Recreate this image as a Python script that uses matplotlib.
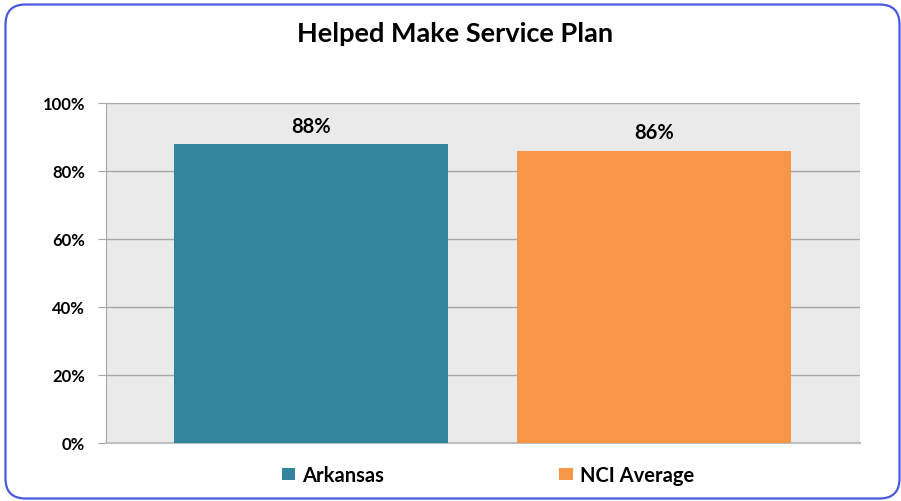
import matplotlib
matplotlib.use("Agg")
import matplotlib.pyplot as plt
from matplotlib.patches import FancyBboxPatch, Patch
from matplotlib.ticker import FuncFormatter

categories = ["Arkansas", "NCI Average"]
values = [88, 86]
colors = ["#31849B", "#F79646"]
yticks = [0, 20, 40, 60, 80, 100]
title = "Helped Make Service Plan"

W, H = 901, 502
plt.rcParams['font.family'] = ['Lato', 'DejaVu Sans']
fig = plt.figure(figsize=(W / 100, H / 100), dpi=100)

# overlay axes in pixel coordinates for the rounded frame
bg = fig.add_axes([0, 0, 1, 1], zorder=-1)
bg.set_xlim(0, W)
bg.set_ylim(H, 0)
bg.axis("off")
frame = FancyBboxPatch((5.5, 5.5), 894, 494,
                       boxstyle="round,pad=0,rounding_size=20",
                       fill=False, edgecolor="#4A5AE0", linewidth=1.6)
bg.add_patch(frame)

ax = fig.add_axes([106 / W, 1 - 444 / H, (860 - 106) / W, (444 - 104) / H])
ax.set_facecolor("#EAEAEA")
x = [0, 1]
bars = ax.bar(x, values, width=0.799, color=colors, zorder=3)
ax.set_xlim(-0.598, 1.60)
ax.set_ylim(0, 100)
ax.set_yticks(yticks)
ax.yaxis.set_major_formatter(FuncFormatter(lambda v, p: f"{int(v)}%"))
ax.grid(axis="y", color="#A6A6A6", linewidth=1.0, zorder=1)
ax.set_xticks([])
for s in ["top", "right"]:
    ax.spines[s].set_visible(False)
ax.spines["left"].set_color("#A6A6A6")
ax.spines["bottom"].set_color("#BFBFBF")
ax.spines["bottom"].set_linewidth(1.5)
ax.tick_params(axis="y", length=6, color="#A6A6A6", labelsize=12, pad=9)
for lbl in ax.get_yticklabels():
    lbl.set_fontweight("bold")

for b, v in zip(bars, values):
    ax.text(b.get_x() + b.get_width() / 2, v + 2.4, f"{v}%", ha="center", va="bottom",
            fontsize=14.5, fontweight="bold", zorder=4)

fig.text(455 / W, 1 - 34 / H, title, ha="center", va="center",
         fontsize=19.5, fontweight="bold")

handles = [Patch(facecolor=c, edgecolor="none") for c in colors]
leg = fig.legend(handles, categories, loc="center", bbox_to_anchor=(488 / W, 1 - 476 / H),
                 ncol=2, frameon=False, handlelength=0.65, handleheight=0.5,
                 columnspacing=8.7, handletextpad=0.35,
                 prop={"weight": "bold", "size": 14.5})

fig.savefig("out.png", dpi=100)
